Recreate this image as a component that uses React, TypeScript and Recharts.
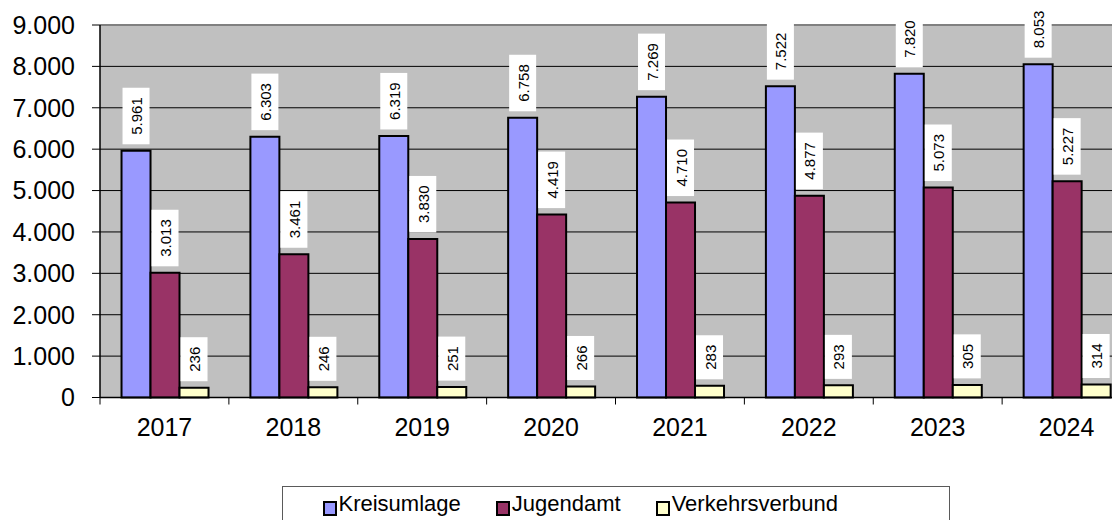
import { BarChart, Bar, XAxis, YAxis, CartesianGrid, LabelList, ReferenceLine } from 'recharts';

const categories = ['2017', '2018', '2019', '2020', '2021', '2022', '2023', '2024'];
const kreisumlage = [5961, 6303, 6319, 6758, 7269, 7522, 7820, 8053];
const jugendamt = [3013, 3461, 3830, 4419, 4710, 4877, 5073, 5227];
const verkehrsverbund = [236, 246, 251, 266, 283, 293, 305, 314];
const yTicks = [0, 1000, 2000, 3000, 4000, 5000, 6000, 7000, 8000, 9000];

const series = [
  { key: 'Kreisumlage', values: kreisumlage, color: '#9999FF' },
  { key: 'Jugendamt', values: jugendamt, color: '#993366' },
  { key: 'Verkehrsverbund', values: verkehrsverbund, color: '#FFFFCC' },
];

const FONT = '"Liberation Sans", Arial, sans-serif';
const CHART_W = 1140;
const CHART_H = 528;
const MARGIN = { top: 25, right: 9, left: 0, bottom: 90.5 };
const Y_AXIS_W = 100;
const bandW = (CHART_W - MARGIN.left - MARGIN.right - Y_AXIS_W) / categories.length;

const data = categories.map((year, i) => {
  const row: Record<string, string | number> = { year };
  series.forEach(s => { row[s.key] = s.values[i]; });
  return row;
});

// 9000 -> "9.000"
const fmt = (v: number) => String(v).replace(/\B(?=(\d{3})+(?!\d))/g, '.');

const ValueLabel = (props: any) => {
  const { x, y, width, value } = props;
  const text = fmt(Number(value));
  const textLen = text.split('').reduce((s, c) => s + (c === '.' ? 4.17 : 8.34), 0);
  const boxH = textLen + 19;
  const boxW = width - 2;
  const cx = x + width / 2;
  const bottom = y - 6.5;
  return (
    <g>
      <rect x={cx - boxW / 2} y={bottom - boxH} width={boxW} height={boxH} fill="#fff" />
      <text
        transform={`translate(${cx},${bottom - boxH / 2}) rotate(-90)`}
        y={6}
        textAnchor="middle"
        fontSize={15}
        fontFamily={FONT}
        fill="#000"
      >
        {text}
      </text>
    </g>
  );
};

const XTick = (props: any) => {
  const { x, y, payload, index } = props;
  const left = x - bandW / 2;
  return (
    <g>
      <line x1={left} x2={left} y1={y} y2={y + 7} stroke="#000" />
      {index === categories.length - 1 && (
        <line x1={x + bandW / 2} x2={x + bandW / 2} y1={y} y2={y + 7} stroke="#000" />
      )}
      <text x={x} y={y + 38.5} textAnchor="middle" fontSize={25} fontFamily={FONT} fill="#000">
        {payload.value}
      </text>
    </g>
  );
};

export default function App() {
  return (
    <div style={{ margin: -8, position: 'relative', width: 1120, height: 528, overflow: 'hidden', background: '#fff', fontFamily: FONT }}>
      <BarChart
        width={CHART_W}
        height={CHART_H}
        data={data}
        margin={MARGIN}
        barCategoryGap="16.7%"
        barGap={0}
      >
        <CartesianGrid vertical={false} fill="#C0C0C0" stroke="#000" strokeOpacity={1} />
        <ReferenceLine y={9000} stroke="#808080" strokeWidth={2} />
        <XAxis
          dataKey="year"
          height={40}
          axisLine={{ stroke: '#000', strokeWidth: 1.5 }}
          tickLine={false}
          tickSize={0}
          tickMargin={0}
          tick={<XTick />}
          interval={0}
        />
        <YAxis
          width={Y_AXIS_W}
          domain={[0, 9000]}
          ticks={yTicks}
          interval={0}
          tickFormatter={fmt}
          axisLine={{ stroke: '#000', strokeWidth: 1.5 }}
          tickLine={{ stroke: '#000' }}
          tickSize={8}
          tickMargin={17}
          tick={{ fill: '#000', fontSize: 25, fontFamily: FONT }}
        />
        {series.map(s => (
          <Bar key={s.key} dataKey={s.key} fill={s.color} stroke="#000" strokeWidth={2} isAnimationActive={false}>
            <LabelList dataKey={s.key} content={<ValueLabel />} />
          </Bar>
        ))}
      </BarChart>
      <div
        style={{
          position: 'absolute',
          left: 282,
          top: 486,
          width: 668,
          height: 60,
          boxSizing: 'border-box',
          border: '1.5px solid #5a5a5a',
          paddingTop: 3.5,
          paddingLeft: 39.5,
          display: 'flex',
          alignItems: 'flex-start',
        }}
      >
        {series.map(s => (
          <div key={s.key} style={{ display: 'flex', alignItems: 'flex-start', marginRight: 35, lineHeight: '25px', fontSize: 22 }}>
            <span
              style={{
                display: 'inline-block',
                width: 14,
                height: 15,
                marginTop: 10,
                marginRight: 2,
                boxSizing: 'border-box',
                border: '2px solid #000',
                background: s.color,
              }}
            />
            <span>{s.key}</span>
          </div>
        ))}
      </div>
    </div>
  );
}
